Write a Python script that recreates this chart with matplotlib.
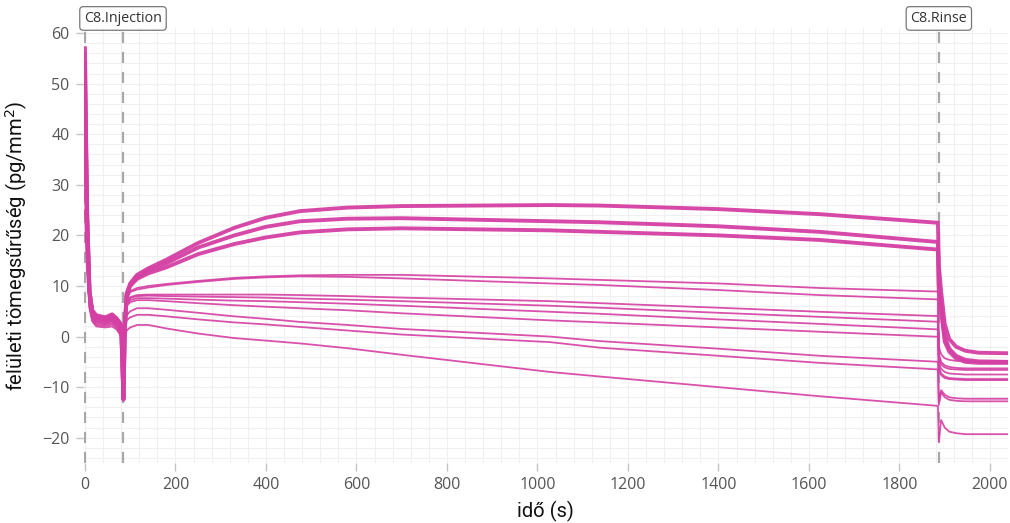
import matplotlib.pyplot as plt
from matplotlib.ticker import MultipleLocator, AutoMinorLocator

# Time knots (s)
time_s = [0, 2, 5, 10, 16, 25, 45, 60, 70, 80, 85, 88, 92,
          100, 115, 140, 180, 250, 330, 400, 475, 580, 700, 1028, 1138, 1400, 1624, 1885,
          1887, 1892, 1900, 1910, 1925, 1945, 1975, 2040]

# Surface mass density (pg/mm^2) for each channel
s1 = [57, 42, 24, 9.0, 5.2, 4.2, 3.8, 4.4, 3.6, 2.4, -12.5, 2.0, 8.5,
      10.5, 12.2, 13.5, 15.2, 18.5, 21.5, 23.5, 24.8, 25.5, 25.8, 26.0, 25.9, 25.2, 24.2, 22.5,
      14.0, 9.0, 2.5, -0.5, -2.0, -2.8, -3.2, -3.3]
s2 = [54, 40, 23, 9.0, 5.0, 4.0, 3.7, 4.2, 3.4, 2.2, -12.3, 1.8, 8.3,
      10.3, 11.8, 13.0, 14.5, 17.6, 20.0, 21.7, 22.8, 23.3, 23.4, 22.8, 22.6, 21.8, 20.7, 18.7,
      10.0, 6.0, 0.0, -2.4, -3.8, -4.6, -4.9, -5.0]
s3 = [51, 38, 22, 8.5, 4.8, 3.9, 3.5, 4.0, 3.2, 2.0, -12.0, 1.5, 8.0,
      10.0, 11.4, 12.5, 13.7, 16.3, 18.3, 19.6, 20.6, 21.2, 21.4, 21.0, 20.7, 20.0, 19.1, 17.2,
      9.0, 5.0, -1.0, -3.0, -4.3, -5.0, -5.2, -5.2]
s4 = [49, 36, 21, 8.0, 4.7, 3.8, 3.4, 3.8, 3.1, 1.9, -11.8, 1.5, 7.5,
      9.0, 9.6, 10.0, 10.4, 11.0, 11.6, 11.9, 12.1, 12.2, 12.2, 11.5, 11.2, 10.5, 9.6, 8.9,
      -2.0, -3.5, -4.3, -4.6, -4.8, -4.9, -4.9, -4.9]
s5 = [46, 34, 20, 8.0, 4.5, 3.6, 3.3, 3.6, 2.9, 1.7, -11.5, 1.2, 7.2,
      8.8, 9.3, 9.7, 10.2, 10.8, 11.4, 11.7, 11.9, 11.8, 11.5, 10.5, 10.2, 9.2, 8.2, 7.35,
      -3.5, -5.0, -5.7, -6.0, -6.2, -6.3, -6.3, -6.3]
s6 = [44, 32, 19, 7.5, 4.4, 3.5, 3.1, 3.5, 2.8, 1.6, -11.2, 1.0, 6.8,
      7.8, 8.2, 8.3, 8.3, 8.3, 8.3, 8.3, 8.2, 8.0, 7.7, 7.0, 6.6, 5.7, 4.9, 4.05,
      -4.0, -5.5, -6.1, -6.4, -6.5, -6.6, -6.6, -6.6]
s7 = [41, 30, 18, 7.0, 4.2, 3.3, 3.0, 3.3, 2.6, 1.4, -11.0, 0.8, 6.6,
      7.6, 8.0, 8.1, 8.0, 7.9, 7.8, 7.7, 7.5, 7.3, 7.0, 6.1, 5.7, 4.7, 3.9, 2.93,
      -5.0, -6.4, -7.0, -7.3, -7.4, -7.5, -7.5, -7.5]
s8 = [38, 28, 17, 7.0, 4.0, 3.1, 2.8, 3.2, 2.5, 1.2, -10.5, 0.5, 6.3,
      7.2, 7.6, 7.6, 7.5, 7.3, 7.1, 7.0, 6.8, 6.5, 6.1, 4.9, 4.5, 3.4, 2.5, 1.42,
      -6.0, -7.3, -7.9, -8.2, -8.3, -8.4, -8.4, -8.4]
s9 = [35, 26, 16, 6.5, 3.8, 2.9, 2.6, 3.0, 2.3, 1.0, -10.0, 0.2, 6.0,
      6.8, 7.2, 7.2, 7.0, 6.6, 6.2, 5.9, 5.6, 5.2, 4.6, 3.2, 2.8, 1.8, 0.95, -0.04,
      -6.5, -7.6, -8.2, -8.4, -8.5, -8.6, -8.6, -8.6]
s10 = [32, 24, 15, 6.0, 3.6, 2.6, 2.4, 2.7, 2.0, 0.7, -9.5, -0.2, 4.2,
       5.0, 5.6, 5.6, 5.3, 4.7, 4.0, 3.5, 2.9, 2.3, 1.5, 0.0, -0.9, -2.4, -3.8, -4.98,
       -13.0, -10.6, -11.5, -12.0, -12.2, -12.3, -12.3, -12.3]
s11 = [29, 22, 14, 6.0, 3.3, 2.3, 2.1, 2.4, 1.7, 0.4, -9.0, -0.6, 3.2,
       3.8, 4.3, 4.3, 4.0, 3.4, 2.8, 2.4, 1.9, 1.2, 0.4, -1.1, -2.2, -3.8, -5.2, -6.5,
       -13.5, -11.0, -12.0, -12.5, -12.7, -12.8, -12.8, -12.8]
s12 = [25, 19, 12, 5.5, 3.0, 2.0, 1.8, 2.0, 1.4, 0.0, -8.5, -1.2, 1.2,
       1.8, 2.3, 2.3, 1.6, 0.6, -0.3, -0.8, -1.35, -2.3, -3.6, -7.0, -7.9, -10.0, -11.8, -13.7,
       -20.8, -16.5, -18.0, -18.8, -19.1, -19.3, -19.3, -19.3]

thick_series = [s1, s2, s3]
thin_series = [s4, s5, s6, s7, s8, s9, s10, s11, s12]

# Event markers
event_times = [84, 1887]
event_labels = ["C8.Injection", "C8.Rinse"]

line_color = "#d43fa3"
grey = "#a8a8a8"

fig = plt.figure(figsize=(10.1, 5.23), dpi=100)
ax = fig.add_axes([0.0828, 0.1147, 0.9153, 0.8317])

for s in thin_series:
    ax.plot(time_s, s, color=line_color, lw=1.3, alpha=0.9, zorder=3)
for s in thick_series:
    ax.plot(time_s, s, color=line_color, lw=2.8, alpha=0.95, zorder=4)

ax.set_xlim(-3, 2040)
ax.set_ylim(-25, 61)

# dashed event lines (also one at t=0)
for t in [0] + event_times:
    ax.axvline(t, color=grey, lw=1.6, ls=(0, (5, 4)), zorder=2)

for t, lab in zip(event_times, event_labels):
    ax.annotate(
        lab,
        xy=(t, 61),
        xycoords="data",
        xytext=(0, 1.5),
        textcoords="offset points",
        ha="center",
        va="bottom",
        fontsize=10.3,
        family="Open Sans",
        color="#333333",
        annotation_clip=False,
        bbox=dict(boxstyle="round,pad=0.3,rounding_size=0.25",
                  facecolor="white", edgecolor="#777777", lw=0.9),
    )

ax.xaxis.set_major_locator(MultipleLocator(200))
ax.yaxis.set_major_locator(MultipleLocator(10))
ax.xaxis.set_minor_locator(AutoMinorLocator(5))
ax.yaxis.set_minor_locator(AutoMinorLocator(5))
ax.grid(True, which="both", color="#f1eff1", lw=0.8, zorder=0)

for sp in ax.spines.values():
    sp.set_visible(False)

ax.tick_params(axis="both", which="major", length=6, width=1, color="#c4c4c4",
               labelsize=11.5, labelcolor="#555555", pad=4)
ax.tick_params(axis="both", which="minor", length=0)
for lbl in ax.get_xticklabels() + ax.get_yticklabels():
    lbl.set_family("Open Sans")

ax.set_xlabel("idő (s)", fontsize=14.5, family="Roboto", color="#111111", labelpad=6)
ax.set_ylabel("felületi tömegsűrűség (pg/mm$^2$)", fontsize=14.5, family="Roboto",
              color="#111111", labelpad=9)

plt.savefig("out.png", dpi=100)
